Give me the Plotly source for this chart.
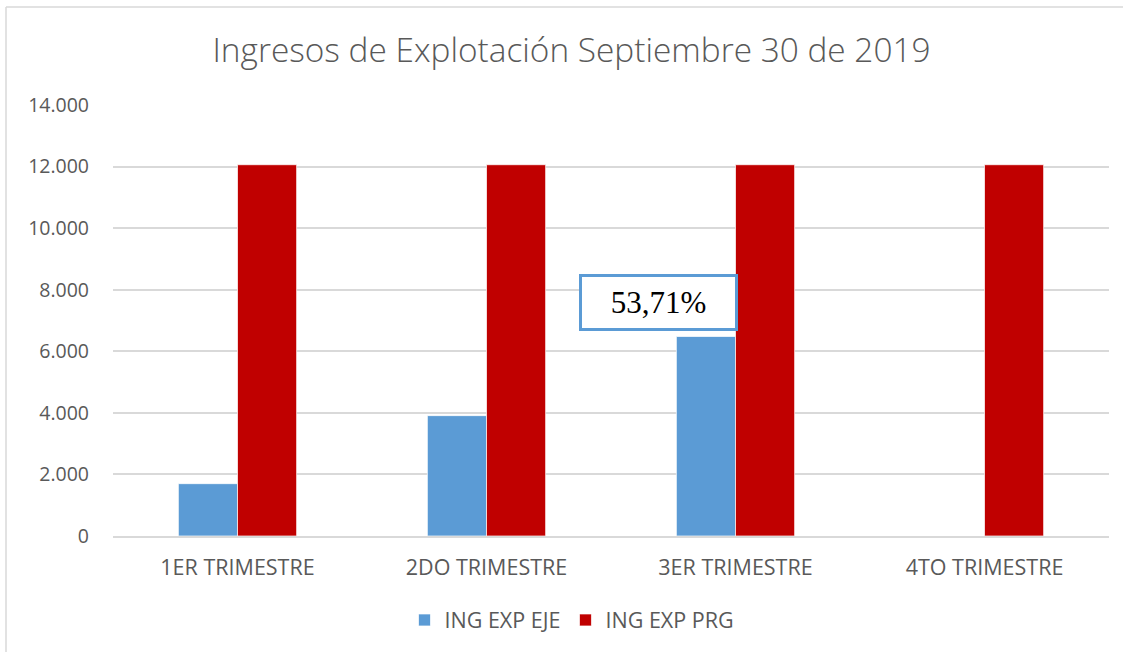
import plotly.graph_objects as go

categories = ["1ER TRIMESTRE", "2DO TRIMESTRE", "3ER TRIMESTRE", "4TO TRIMESTRE"]
ing_exp_eje = [1700, 3910, 6480, None]
ing_exp_prg = [12060, 12060, 12060, 12060]
y_ticks = [0, 2000, 4000, 6000, 8000, 10000, 12000, 14000]
annotation_text = "53,71%"
title_text = "Ingresos de Explotación Septiembre 30 de 2019"

W, H = 1123, 652
L, R, T, B = 113, 14, 105, 116
pw, ph = W - L - R, H - T - B

def px_x(x):
    return (x - L) / pw

def px_y(y):
    return (H - B - y) / ph

font_fam = "Open Sans, Roboto, sans-serif"
grey = "#595959"

fig = go.Figure()
fig.add_trace(go.Bar(name="ING EXP EJE", x=categories, y=ing_exp_eje,
                     marker=dict(color="#5b9bd5", line=dict(color="rgba(255,255,255,0.7)", width=1))))
fig.add_trace(go.Bar(name="ING EXP PRG", x=categories, y=ing_exp_prg,
                     marker=dict(color="#c00000", line=dict(color="rgba(255,255,255,0.7)", width=1))))

fig.update_layout(
    width=W, height=H,
    margin=dict(l=L, r=R, t=T, b=B, autoexpand=False),
    paper_bgcolor="white", plot_bgcolor="white",
    separators=",.",
    barmode="group", bargap=0.525, bargroupgap=0,
    title=dict(text=title_text, x=571.5 / W, xref="container", xanchor="center",
               y=1 - 50 / H, yref="container", yanchor="middle",
               font=dict(family=font_fam, size=33.4, color=grey, weight=300)),
    showlegend=True,
    legend=dict(orientation="h", x=px_x(572), xanchor="center",
                y=px_y(620), yanchor="middle",
                font=dict(family=font_fam, size=21.5, color=grey),
                itemwidth=30, traceorder="normal"),
    xaxis=dict(showgrid=False, showline=True, linecolor="#d9d9d9", linewidth=1.5,
               ticks="", tickfont=dict(family=font_fam, size=21.5, color=grey),
               ticklabelstandoff=11, fixedrange=True),
    yaxis=dict(range=[0, 14000], tickvals=y_ticks, tickformat=",d",
               showgrid=True, gridcolor="#d9d9d9", gridwidth=1.5,
               zeroline=False, showline=False, ticks="",
               tickfont=dict(family=font_fam, size=19.5, color=grey),
               ticklabelstandoff=23, fixedrange=True),
)

fig.add_annotation(
    text=annotation_text, xref="paper", yref="paper",
    x=px_x(658.5), y=px_y(302.5), xanchor="center", yanchor="middle",
    showarrow=False, width=151, height=49,
    font=dict(family="Liberation Serif, Times New Roman, serif", size=31, color="black"),
    bgcolor="white", bordercolor="#5b9bd5", borderwidth=3, borderpad=1,
)

# outer chart border (top and left edges)
fig.add_shape(type="line", xref="paper", yref="paper",
              x0=px_x(6), x1=px_x(W + 5), y0=px_y(7), y1=px_y(7),
              line=dict(color="#d9d9d9", width=1.5))
fig.add_shape(type="line", xref="paper", yref="paper",
              x0=px_x(6), x1=px_x(6), y0=px_y(7), y1=px_y(H + 5),
              line=dict(color="#d9d9d9", width=1.5))

fig.write_html(
    "out.html",
    config={"displayModeBar": False},
    post_script="document.body.style.margin='0';document.body.style.padding='0';"
                "document.body.style.overflow='hidden';",
)
